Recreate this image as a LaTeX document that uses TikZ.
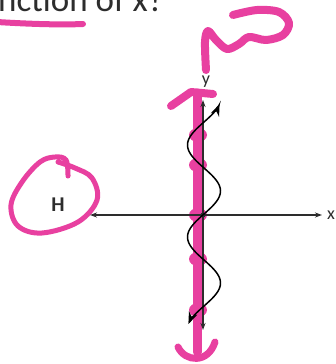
\documentclass[tikz,border=0pt]{standalone}
\usepackage{fontspec}
\setmainfont{Carlito}
\usepackage{xcolor}
\usepackage{tikz}
\usetikzlibrary{arrows.meta}

\definecolor{evid}{RGB}{232,64,160}
\definecolor{inchiostro}{RGB}{45,45,45}

\begin{document}
\begin{tikzpicture}[x=1pt, y=-1pt,
    marker/.style={draw=evid, line cap=round, line join=round, line width=#1},
    asse/.style={draw=inchiostro, line width=1.3pt, {Stealth[length=7pt,width=5pt]}-{Stealth[length=7pt,width=5pt]}},
    onda/.style={draw=black, line width=1.5pt, {Stealth[length=12pt,width=9pt]}-{Stealth[length=12pt,width=9pt]}}]

    \fill[white] (0,0) rectangle (336,364);
    \useasboundingbox (0,0) rectangle (336,364);

    % Domanda
    \node[anchor=base west, inner sep=0pt, text=inchiostro, font=\fontsize{35}{35}\selectfont] (domanda) at (-2,12) {nction of x?};
    \draw[marker=6pt] (-3,22) .. controls (30,24) and (60,25) .. (83,24);

    % Risposta
    \draw[marker=8pt] plot[smooth, tension=0.55] coordinates {(206,70) (205,42) (208,31) (216,40) (227,49) (239,44) (249,37) (266,40) (283,35) (289,23) (279,12) (257,10) (233,15)};

    % Evidenziatore sull'asse
    \draw[marker=9pt] (197,93) -- (197,352);
    \draw[marker=8pt] (171,106) -- (191,92) -- (213,94);
    \draw[marker=7pt] (178,347) .. controls (185,362) and (208,364) .. (215,342);
    \foreach \yy in {135,165,215,259,310}
        \fill[evid] (198,\yy) ellipse[x radius=9pt, y radius=7pt];

    % H cerchiata
    \draw[marker=5pt] plot[smooth, tension=0.6] coordinates {(68,176) (66,160) (55,157) (40,162) (22,182) (11,205) (18,226) (42,233) (78,222) (97,200) (92,178) (75,168) (58,162)};
    \node[font=\bfseries\fontsize{21}{21}\selectfont, text=inchiostro] (H) at (58,205) {H};

    % Assi
    \coordinate (O) at (203,215);
    \coordinate (ysu) at (203,100);
    \coordinate (ygiu) at (203,330);
    \coordinate (xsx) at (90,215);
    \coordinate (xdx) at (322,215);
    \draw[asse] (ygiu) -- (ysu);
    \draw[asse] (xsx) -- (xdx);
    \fill[inchiostro] (O) circle[radius=2.5pt];
    \node[font=\fontsize{18}{18}\selectfont, text=inchiostro] (ylab) at (206,82) {y};
    \node[font=\fontsize{18}{18}\selectfont, text=inchiostro] (xlab) at (331,215) {x};

    % Onda
    \draw[onda] plot[variable=\t, domain=104:324, samples=120, smooth] ({204-16.5*sin(3.913*(\t-214))}, \t);
\end{tikzpicture}
\end{document}
